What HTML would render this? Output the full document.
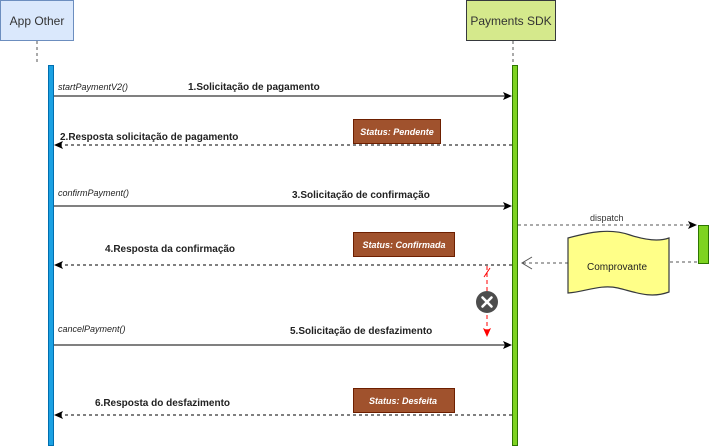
<!DOCTYPE html>
<html><head><meta charset="utf-8"><style>
html,body{margin:0;padding:0;background:#fff;}
svg{display:block;font-family:"Liberation Sans",sans-serif;}
</style></head><body>
<svg width="709" height="446" viewBox="0 0 709 446" xmlns="http://www.w3.org/2000/svg">
<defs>
<marker id="a" markerWidth="10" markerHeight="10" refX="8" refY="4" orient="auto" markerUnits="userSpaceOnUse"><path d="M0,0 L9,4 L0,8 L2,4 Z" fill="#000"/></marker>
<marker id="r" markerWidth="10" markerHeight="10" refX="8" refY="4" orient="auto" markerUnits="userSpaceOnUse"><path d="M0,0 L9,4 L0,8 L2,4 Z" fill="#f00"/></marker>
</defs>
<rect x="0.5" y="0.5" width="73" height="40" fill="#dae8fc" stroke="#6c8ebf"/>
<text x="37" y="25" font-size="12" text-anchor="middle" fill="#333">App Other</text>
<rect x="466.5" y="0.5" width="89" height="40" fill="#d5e98c" stroke="#36393d"/>
<text x="511" y="25" font-size="12" text-anchor="middle" fill="#333">Payments SDK</text>
<line x1="37" y1="41" x2="37" y2="65" stroke="#555" stroke-dasharray="3,3"/>
<line x1="513" y1="41" x2="513" y2="65" stroke="#555" stroke-dasharray="3,3"/>
<rect x="48.5" y="65.5" width="5" height="380" fill="#1ba1e2" stroke="#006eaf"/>
<rect x="512.5" y="65.5" width="5" height="380" fill="#7ed321" stroke="#2d7600"/>
<g font-size="10" fill="#222">
<text x="58" y="90" font-style="italic" font-size="9">startPaymentV2()</text>
<text x="188" y="90" font-weight="bold">1.Solicitação de pagamento</text>
<text x="60" y="140" font-weight="bold">2.Resposta solicitação de pagamento</text>
<text x="58" y="196" font-style="italic" font-size="9">confirmPayment()</text>
<text x="292" y="198" font-weight="bold">3.Solicitação de confirmação</text>
<text x="105" y="252" font-weight="bold">4.Resposta da confirmação</text>
<text x="58" y="332" font-style="italic" font-size="9">cancelPayment()</text>
<text x="290" y="334" font-weight="bold">5.Solicitação de desfazimento</text>
<text x="95" y="406" font-weight="bold">6.Resposta do desfazimento</text>
<text x="590" y="221" font-size="9" fill="#333">dispatch</text>
</g>
<line x1="54" y1="96" x2="511" y2="96" stroke="#000" marker-end="url(#a)"/>
<line x1="512" y1="145" x2="55" y2="145" stroke="#000" stroke-dasharray="3,3" marker-end="url(#a)"/>
<line x1="54" y1="206" x2="511" y2="206" stroke="#000" marker-end="url(#a)"/>
<line x1="512" y1="265" x2="55" y2="265" stroke="#000" stroke-dasharray="3,3" marker-end="url(#a)"/>
<line x1="54" y1="345" x2="511" y2="345" stroke="#000" marker-end="url(#a)"/>
<line x1="512" y1="415" x2="55" y2="415" stroke="#000" stroke-dasharray="3,3" marker-end="url(#a)"/>
<rect x="353.5" y="119.5" width="87" height="24" fill="#a0522d" stroke="#6d1f00"/>
<text x="397" y="135" font-size="9" font-style="italic" font-weight="bold" fill="#fff" text-anchor="middle">Status: Pendente</text>
<rect x="353.5" y="232.5" width="101" height="24" fill="#a0522d" stroke="#6d1f00"/>
<text x="404" y="248" font-size="9" font-style="italic" font-weight="bold" fill="#fff" text-anchor="middle">Status: Confirmada</text>
<rect x="353.5" y="388.5" width="101" height="24" fill="#a0522d" stroke="#6d1f00"/>
<text x="403" y="404" font-size="9" font-style="italic" font-weight="bold" fill="#fff" text-anchor="middle">Status: Desfeita</text>
<line x1="518" y1="225" x2="696" y2="225" stroke="#555" stroke-dasharray="3,3" marker-end="url(#a)"/>
<rect x="698.5" y="225.5" width="10" height="38" fill="#7ed321" stroke="#2d7600"/>
<line x1="670" y1="262" x2="698" y2="262" stroke="#555" stroke-dasharray="3,3"/>
<line x1="568" y1="263" x2="522" y2="263" stroke="#555" stroke-dasharray="3,3"/>
<path d="M532,257 L522,263 L532,269" fill="none" stroke="#555"/>
<path d="M568,238 C590,232 610,228 630,235 C645,240 658,242 669,238 L669,292 C650,299 635,292 618,288 C600,284 585,292 568,293 Z" fill="#ffff88" stroke="#36393d" stroke-width="1.2"/>
<text x="617" y="270" font-size="10" fill="#222" text-anchor="middle">Comprovante</text>
<line x1="487" y1="266" x2="487" y2="336" stroke="#f00" stroke-dasharray="4,3" marker-end="url(#r)"/>
<line x1="484" y1="277" x2="490" y2="268" stroke="#f00"/>
<circle cx="487" cy="302" r="11" fill="#4d4d4d"/>
<path d="M482.5,297.5 L491.5,306.5 M491.5,297.5 L482.5,306.5" stroke="#fff" stroke-width="2.6" stroke-linecap="round"/>
</svg>
</body></html>
